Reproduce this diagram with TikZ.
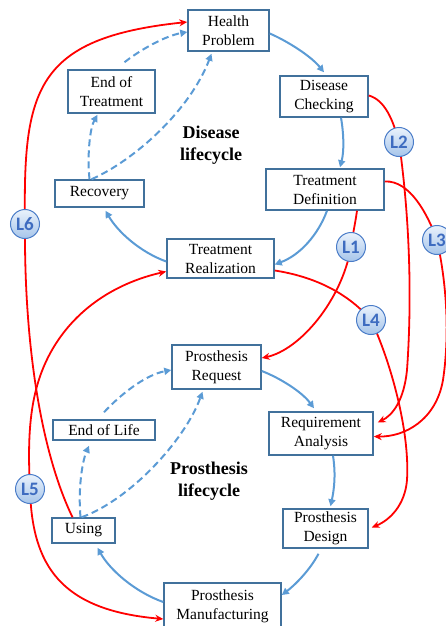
\documentclass[tikz,border=0pt]{standalone}
\usepackage{fontspec}
\setmainfont{Liberation Serif}
\newfontfamily\lfont{Carlito}
\usetikzlibrary{arrows.meta}
\definecolor{boxblue}{HTML}{41719C}
\definecolor{flowblue}{HTML}{5B9BD5}
\definecolor{linkred}{HTML}{FF0000}
\definecolor{lborder}{HTML}{4A7CC8}
\definecolor{ltext}{HTML}{3E6CC0}
\definecolor{ltop}{HTML}{EAF2FC}
\definecolor{lbot}{HTML}{A6C5EA}
\tikzset{
  stage/.style={draw=boxblue, line width=1.5pt, fill=white, align=center, inner sep=0pt,
    font=\fontsize{15.5}{19}\selectfont},
  flow/.style={draw=flowblue, line width=2pt, -{Triangle[length=7pt,width=7pt]}},
  dflow/.style={flow, dash pattern=on 7pt off 4pt},
  link/.style={draw=linkred, line width=1.8pt, -{Stealth[length=8pt,width=7pt]}},
  lbl/.style={circle, draw=lborder, line width=1pt, top color=ltop, bottom color=lbot,
    minimum size=29pt, inner sep=0pt, text=ltext, font=\lfont\bfseries\fontsize{19}{19}\selectfont},
  cycletitle/.style={align=center, font=\bfseries\fontsize{18}{22}\selectfont}
}
\begin{document}
\begin{tikzpicture}[x=1pt,y=-1pt]
\useasboundingbox (0,0) rectangle (446,626);
% stages
\node[stage, minimum width=81pt, minimum height=41pt] (hp) at (228.5,30.5) {Health\\Problem};
\node[stage, minimum width=88pt, minimum height=41pt] (dc) at (324,96.5) {Disease\\Checking};
\node[stage, minimum width=118pt, minimum height=41pt] (td) at (325,189.5) {Treatment\\Definition};
\node[stage, minimum width=107pt, minimum height=39pt] (tr) at (220.5,258.5) {Treatment\\Realization};
\node[stage, minimum width=89pt, minimum height=27pt] (rec) at (99.5,193.5) {Recovery};
\node[stage, minimum width=87pt, minimum height=43pt] (eot) at (111.5,91.5) {End of\\Treatment};
\node[stage, minimum width=89pt, minimum height=44pt] (pr) at (216.5,367) {Prosthesis\\Request};
\node[stage, minimum width=104pt, minimum height=43pt] (ra) at (321,433.5) {Requirement\\Analysis};
\node[stage, minimum width=85pt, minimum height=39pt] (pd) at (325.5,528.5) {Prosthesis\\Design};
\node[stage, minimum width=117pt, minimum height=46pt] (pm) at (222.5,606) {Prosthesis\\Manufacturing};
\node[stage, minimum width=63pt, minimum height=25pt] (using) at (83.5,530.5) {Using};
\node[stage, minimum width=102pt, minimum height=20pt] (eol) at (104,430) {End of Life};
\node[cycletitle] (dl) at (211,145) {Disease\\lifecycle};
\node[cycletitle] (pl) at (209,481) {Prosthesis\\lifecycle};
% disease lifecycle flows
\draw[flow] ([yshift=-3pt]hp.east) .. controls (285,40) and (310,55) .. ([yshift=3pt]dc.north);
\draw[flow] ([xshift=17pt]dc.south) .. controls (344,135) and (344,152) .. ([xshift=15pt,yshift=1pt]td.north);
\draw[flow] ([xshift=2pt]td.south) .. controls (318,235) and (300,255) .. ([yshift=-6pt]tr.east);
\draw[flow] ([yshift=-3pt]tr.west) .. controls (140,252) and (118,232) .. ([xshift=6pt,yshift=-3pt]rec.south);
\draw[dflow] ([xshift=-10pt]rec.north) .. controls (87,155) and (90,128) .. ([xshift=-14pt,yshift=-1pt]eot.south);
\draw[dflow] ([xshift=13pt,yshift=7pt]eot.north) .. controls (140,50) and (165,36) .. ([yshift=-1.5pt]hp.west);
\draw[dflow] ([xshift=-8pt]rec.north) .. controls (135,160) and (190,110) .. ([xshift=-17pt,yshift=-2pt]hp.south);
% prosthesis lifecycle flows
\draw[flow] ([yshift=-4pt]pr.east) .. controls (280,378) and (302,392) .. ([xshift=-7pt,yshift=3pt]ra.north);
\draw[flow] ([xshift=12pt]ra.south) .. controls (336,475) and (334,490) .. ([xshift=5pt,yshift=2pt]pd.north);
\draw[flow] ([xshift=-7pt,yshift=-5pt]pd.south) .. controls (310,570) and (295,585) .. ([yshift=11pt]pm.east);
\draw[flow] ([yshift=4pt]pm.west) .. controls (135,592) and (110,570) .. ([xshift=14pt,yshift=-4pt]using.south);
\draw[dflow] ([xshift=-3pt]using.north) .. controls (78,490) and (82,462) .. ([xshift=-15pt,yshift=-5pt]eol.south);
\draw[dflow] ([yshift=7pt]eol.north) .. controls (120,395) and (145,375) .. ([yshift=-3pt]pr.west);
\draw[dflow] ([xshift=-2pt]using.north) .. controls (130,500) and (185,440) .. ([xshift=-14pt,yshift=-2pt]pr.south);
% link positions
\coordinate (c1) at (351,247);
\coordinate (c2) at (399,142);
\coordinate (c3) at (437,240);
\coordinate (c4) at (371,320);
\coordinate (c5) at (30,489);
\coordinate (c6) at (25,224);
% red links
\draw[link] ([xshift=32pt]td.south) .. controls (355,225) and (352,238) .. (c1)
  .. controls (342,300) and (300,350) .. ([yshift=9pt]pr.east);
\draw[link] ([yshift=1pt]dc.east) .. controls (385,100) and (393,120) .. (c2)
  .. controls (410,220) and (412,300) .. (407,370)
  .. controls (404,400) and (393,415) .. ([xshift=4pt,yshift=11pt]ra.east);
\draw[link] ([yshift=8pt]td.east) .. controls (410,180) and (428,215) .. (c3)
  .. controls (448,290) and (449,340) .. (443,380)
  .. controls (436,420) and (405,437) .. ([yshift=-3pt]ra.east);
\draw[link] ([yshift=-12pt]tr.east) .. controls (310,276) and (345,290) .. (c4)
  .. controls (390,360) and (410,430) .. (407,480)
  .. controls (405,505) and (390,520) .. ([xshift=3pt,yshift=1pt]pd.east);
\draw[link, {Stealth[length=8pt,width=7pt]}-{Stealth[length=8pt,width=7pt]}] ([yshift=-13pt]tr.west)
  .. controls (120,282) and (80,305) .. (55,345)
  .. controls (30,385) and (27,430) .. (c5)
  .. controls (32,565) and (60,610) .. ([yshift=-13pt]pm.west);
\draw[link] ([xshift=-11pt]using.north) .. controls (40,450) and (24,340) .. (c6)
  .. controls (23,90) and (35,38) .. ([yshift=8.5pt]hp.west);
% link labels
\node[lbl] (l1) at (c1) {L1};
\node[lbl] (l2) at (c2) {L2};
\node[lbl] (l3) at (c3) {L3};
\node[lbl] (l4) at (c4) {L4};
\node[lbl] (l5) at (c5) {L5};
\node[lbl] (l6) at (c6) {L6};
\end{tikzpicture}
\end{document}
